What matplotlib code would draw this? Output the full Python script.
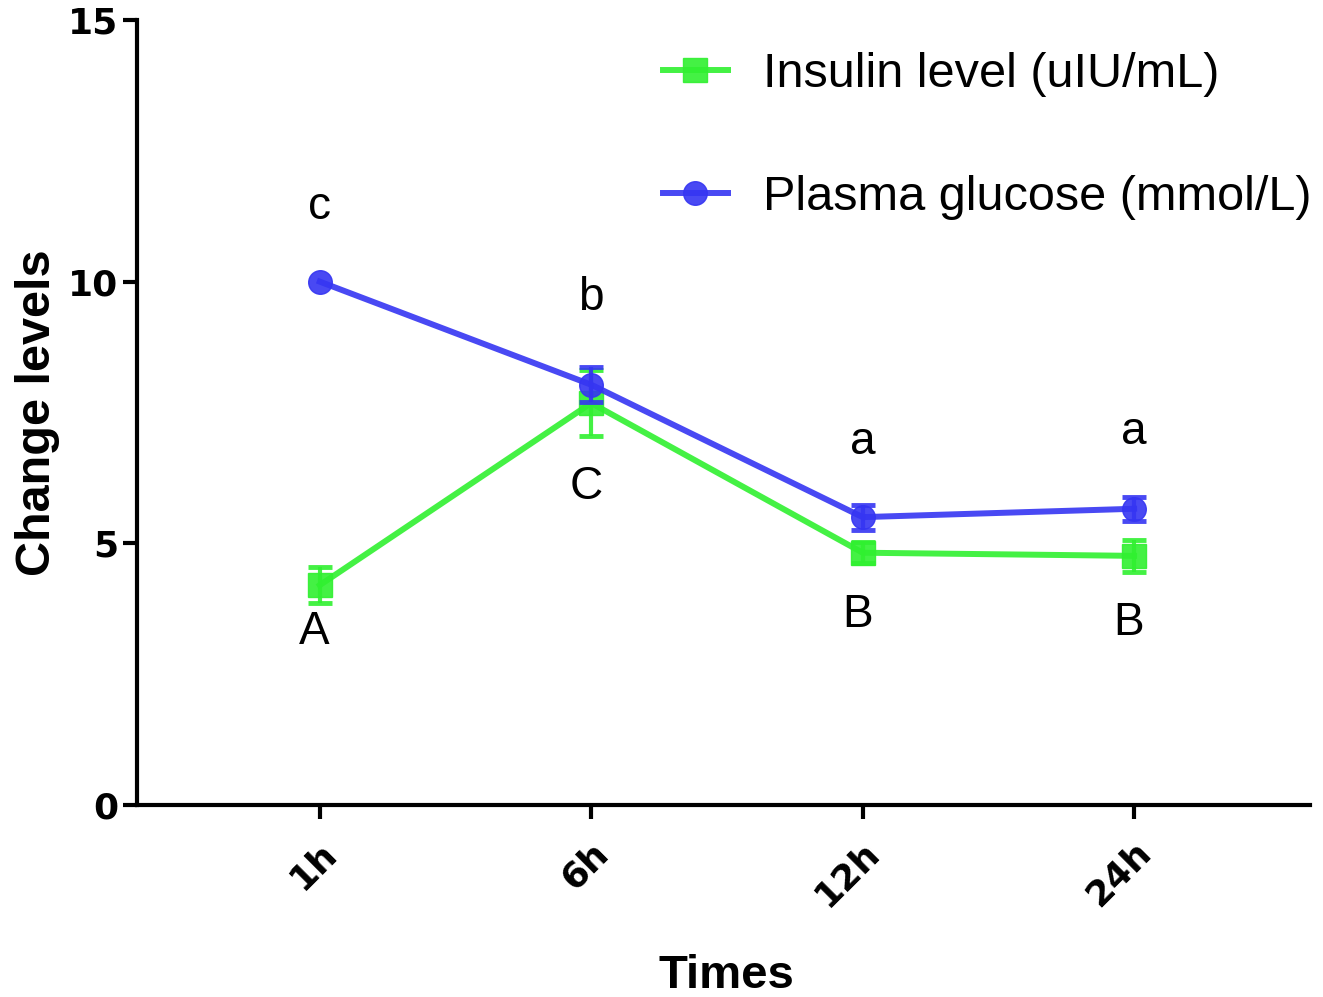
import matplotlib
matplotlib.use("Agg")
import matplotlib.pyplot as plt
from matplotlib.lines import Line2D

plt.rcParams['font.family'] = ['Liberation Sans', 'DejaVu Sans']

# datos
tiempos = ["1h", "6h", "12h", "24h"]
insulina = [4.2, 7.68, 4.82, 4.76]
insulina_err = [0.35, 0.63, 0.2, 0.3]
glucosa = [10.0, 8.03, 5.5, 5.66]
glucosa_err = [0.0, 0.33, 0.24, 0.23]

letras_glu = ["c", "b", "a", "a"]
letras_glu_y = [11.43, 9.69, 6.94, 7.13]
letras_ins = ["A", "C", "B", "B"]
letras_ins_y = [3.3, 6.08, 3.63, 3.48]

verde = '#30F030'
azul = '#3535F2'

fig = plt.figure(figsize=(13.23, 9.97), dpi=100)
ax = fig.add_axes([0.1036, 0.1926, 0.8864, 0.7874])

x = list(range(len(tiempos)))

def serie(vals, errs, color, marca):
    ax.plot(x, vals, color=color, marker=marca, markersize=17, linewidth=4.3, alpha=0.9)
    xs = [i for i in x if errs[i] > 0]
    ax.errorbar(xs, [vals[i] for i in xs], yerr=[errs[i] for i in xs], fmt='none',
                ecolor=color, elinewidth=3, capsize=8.5, capthick=3.5, alpha=0.9)

serie(insulina, insulina_err, verde, 's')
serie(glucosa, glucosa_err, azul, 'o')

for i in x:
    ax.text(i, letras_glu_y[i], letras_glu[i], fontsize=33, ha='center', va='center')
    ax.text(i - 0.02, letras_ins_y[i], letras_ins[i], fontsize=33, ha='center', va='center')

ax.set_xlim(-0.673, 3.647)
ax.set_ylim(0, 15)
ax.set_yticks([0, 5, 10, 15])
ax.set_xticks(x)
ax.set_xticklabels(tiempos, rotation=45, ha='right', rotation_mode='anchor')

for s in ['top', 'right']:
    ax.spines[s].set_visible(False)
for s in ['left', 'bottom']:
    ax.spines[s].set_linewidth(3)
ax.tick_params(axis='both', width=3, length=10, labelsize=26)
ax.tick_params(axis='x', pad=12)
for lbl in ax.get_xticklabels() + ax.get_yticklabels():
    lbl.set_fontweight('bold')
    lbl.set_family('DejaVu Sans')

ax.set_ylabel("Change levels", fontsize=35, fontweight='bold')
ax.yaxis.set_label_coords(-0.066, 0.5)
ax.set_xlabel("Times", fontsize=34, fontweight='bold')
ax.xaxis.set_label_coords(0.503, -0.19)

handles = [Line2D([], [], color=verde, marker='s', markersize=17, linewidth=4.3, alpha=0.9),
           Line2D([], [], color=azul, marker='o', markersize=17, linewidth=4.3, alpha=0.9)]
ax.legend(handles, ["Insulin level (uIU/mL)", "Plasma glucose (mmol/L)"],
          loc='upper right', fontsize=35, frameon=False, labelspacing=1.6,
          handlelength=1.35, handletextpad=0.72, bbox_to_anchor=(1.039, 1.015))

fig.savefig("out.png", dpi=100)
